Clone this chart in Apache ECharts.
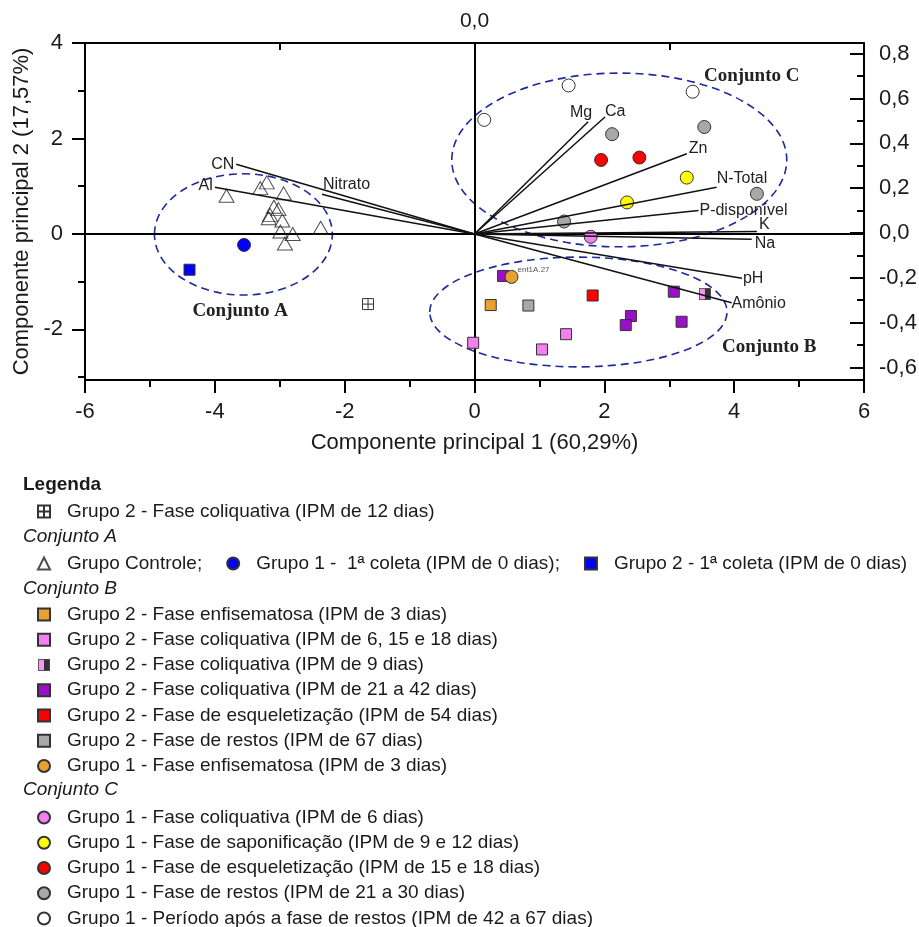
<!DOCTYPE html>
<html>
<head>
<meta charset="utf-8">
<script src="https://cdn.jsdelivr.net/npm/echarts@6/dist/echarts.min.js"></script>
<style>html,body{margin:0;padding:0;background:#fff}#c{width:919px;height:927px}</style>
</head>
<body>
<div id="c"></div>
<script>
// ---------- data ----------
const xTickLabels = [-6, -4, -2, 0, 2, 4, 6];
const yLeftLabels = [-2, 0, 2, 4];
const yLeftTicks = [-3, -2, -1, 0, 1, 2, 3, 4];
const yRightLabels = [-0.6, -0.4, -0.2, 0, 0.2, 0.4, 0.6, 0.8];
const yRightMinor = [-0.5, -0.3, -0.1, 0.1, 0.3, 0.5, 0.7];

const grupoControle = [[-3.82,0.80],[-3.20,1.08],[-3.30,0.96],[-2.94,0.85],[-3.09,0.57],[-3.02,0.52],[-3.15,0.40],[-3.17,0.33],[-2.96,0.28],[-2.99,0.05],[-2.80,0.00],[-2.92,-0.20],[-2.37,0.13]];
const g1Coleta0 = [[-3.55,-0.23]];
const g2Coleta0 = [[-4.39,-0.75]];
const g2Col12 = [[-1.64,-1.47]];
const g2Enf = [[0.25,-1.49]];
const g2Col6_15_18 = [[1.41,-2.10],[1.04,-2.42],[-0.02,-2.28]];
const g2Col9 = [[3.55,-1.26]];
const g2Col21_42 = [[0.44,-0.88],[3.07,-1.21],[2.41,-1.72],[2.33,-1.91],[3.19,-1.84]];
const g2Esq = [[1.82,-1.29]];
const g2Restos = [[0.83,-1.50]];
const g1Enf = [[0.57,-0.90]];
const g1Col6 = [[1.79,-0.06]];
const g1Sap = [[3.27,1.18],[2.35,0.66]];
const g1Esq = [[1.95,1.55],[2.54,1.60]];
const g1Restos = [[2.12,2.09],[3.54,2.24],[4.35,0.84],[1.38,0.26]];
const g1Apos = [[0.15,2.39],[1.45,3.11],[3.36,2.98]];

const vecNames = ['CN','Al','Nitrato','Mg','Ca','Zn','N-Total','P-disponível','K','Na','pH','Amônio'];
const vecX = [-3.67,-4.00,-2.35,1.75,2.01,3.27,3.73,3.45,4.35,4.27,4.12,3.96];
const vecY = [1.46,0.98,0.83,2.35,2.45,1.68,0.98,0.49,0.05,-0.11,-0.93,-1.44];

const ellipseNames = ['A','B','C'];
const ellipseCx = [-3.56, 1.60, 2.23];
const ellipseCy = [-0.01, -1.635, 1.55];
const ellipseRx = [1.37, 2.29, 2.58];
const ellipseRy = [1.27, 1.15, 1.82];

const conjLabels = ['Conjunto A','Conjunto B','Conjunto C'];
const conjX = [-3.61, 4.54, 4.27];
const conjY = [-1.61, -2.38, 3.30];

// ---------- names ----------
const N = {
  g2Col12: 'Grupo 2 - Fase coliquativa (IPM de 12 dias)',
  ctrl: 'Grupo Controle',
  g1C0: 'Grupo 1 -  1ª coleta (IPM de 0 dias)',
  g2C0: 'Grupo 2 - 1ª coleta (IPM de 0 dias)',
  g2Enf: 'Grupo 2 - Fase enfisematosa (IPM de 3 dias)',
  g2Col6: 'Grupo 2 - Fase coliquativa (IPM de 6, 15 e 18 dias)',
  g2Col9: 'Grupo 2 - Fase coliquativa (IPM de 9 dias)',
  g2Col21: 'Grupo 2 - Fase coliquativa (IPM de 21 a 42 dias)',
  g2Esq: 'Grupo 2 - Fase de esqueletização (IPM de 54 dias)',
  g2Restos: 'Grupo 2 - Fase de restos (IPM de 67 dias)',
  g1Enf: 'Grupo 1 - Fase enfisematosa (IPM de 3 dias)',
  g1Col6: 'Grupo 1 - Fase coliquativa (IPM de 6 dias)',
  g1Sap: 'Grupo 1 - Fase de saponificação (IPM de 9 e 12 dias)',
  g1Esq: 'Grupo 1 - Fase de esqueletização (IPM de 15 e 18 dias)',
  g1Restos: 'Grupo 1 - Fase de restos (IPM de 21 a 30 dias)',
  g1Apos: 'Grupo 1 - Período após a fase de restos (IPM de 42 a 67 dias)'
};

// ---------- styles ----------
const FONT = '"Liberation Sans", Arial, sans-serif';
const SERIF = '"Liberation Serif", "Times New Roman", serif';
const BORDER = '#333';
const halfSquareSvg = 'data:image/svg+xml;charset=utf-8,' + encodeURIComponent(
  '<svg xmlns="http://www.w3.org/2000/svg" width="24" height="24" viewBox="0 0 24 24">' +
  '<rect x="1" y="1" width="22" height="22" fill="#f47ff0" stroke="#333" stroke-width="2"/>' +
  '<rect x="12" y="1" width="11" height="22" fill="#000"/></svg>');
const crossSquare = 'path://M0,0H10V10H0Z M5,0V10 M0,5H10';

const vecLabelLayout = {
  'CN': {align:'right', dx:-2, dy:0},
  'Al': {align:'right', dx:-2, dy:-2},
  'Nitrato': {align:'left', dx:1, dy:-10},
  'Mg': {align:'right', dx:4, dy:-9},
  'Ca': {align:'left', dx:0, dy:-5},
  'Zn': {align:'left', dx:2, dy:-5},
  'N-Total': {align:'left', dx:0, dy:-9},
  'P-disponível': {align:'left', dx:1, dy:0},
  'K': {align:'left', dx:2, dy:-7},
  'Na': {align:'left', dx:3, dy:4},
  'pH': {align:'left', dx:1, dy:0},
  'Amônio': {align:'left', dx:0, dy:1}
};

function scatter(name, data, symbol, size, color, extra) {
  return Object.assign({
    name: name, type: 'scatter', data: data, symbol: symbol, symbolSize: size,
    xAxisIndex: 0, yAxisIndex: 0, z: 5,
    itemStyle: {color: color, borderColor: BORDER, borderWidth: 1, opacity: 1},
    emphasis: {disabled: true}
  }, extra || {});
}

const series = [
  {
    name: 'ellipses', type: 'custom', xAxisIndex: 0, yAxisIndex: 0, z: 1, silent: true,
    data: ellipseNames.map((n, i) => [ellipseCx[i], ellipseCy[i], ellipseRx[i], ellipseRy[i]]),
    renderItem: function (params, api) {
      const c = api.coord([api.value(0), api.value(1)]);
      const s = api.size([api.value(2), api.value(3)]);
      return {type: 'ellipse', shape: {cx: c[0], cy: c[1], rx: s[0], ry: s[1]},
        style: {fill: 'none', stroke: '#1c2a9c', lineWidth: 1.6, lineDash: [8, 5]}};
    },
    markLine: {
      silent: true, symbol: ['none', 'none'], label: {show: false},
      lineStyle: {color: '#000', width: 2, type: 'solid'},
      data: [{xAxis: 0}, {yAxis: 0}]
    }
  },
  {
    name: 'conjuntos', type: 'custom', xAxisIndex: 0, yAxisIndex: 0, z: 2, silent: true,
    data: conjLabels.map((n, i) => [conjX[i], conjY[i], i]),
    renderItem: function (params, api) {
      const c = api.coord([api.value(0), api.value(1)]);
      return {type: 'text', x: c[0], y: c[1], style: {text: conjLabels[api.value(2)],
        font: 'bold 19px ' + SERIF, fill: '#222', textAlign: 'center', textVerticalAlign: 'middle', verticalAlign: 'middle'}};
    }
  },
  scatter(N.ctrl, grupoControle, 'triangle', [15, 13], 'rgba(255,255,255,0)', {itemStyle: {color: 'rgba(255,255,255,0)', borderColor: '#222', borderWidth: 1}}),
  scatter(N.g1C0, g1Coleta0, 'circle', 13, '#0000ff'),
  scatter(N.g2C0, g2Coleta0, 'rect', 11, '#0000ff'),
  scatter(N.g2Col12, g2Col12, crossSquare, 11, '#ffffff'),
  scatter(N.g2Enf, g2Enf, 'rect', 11, '#e8a030'),
  scatter(N.g2Col6, g2Col6_15_18, 'rect', 11, '#f47ff0'),
  scatter(N.g2Col9, g2Col9, 'image://' + halfSquareSvg, 12, '#f47ff0', {itemStyle: {}}),
  scatter(N.g2Col21, g2Col21_42, 'rect', 11, '#9a10c8'),
  scatter(N.g2Esq, g2Esq, 'rect', 11, '#ff0000'),
  scatter(N.g2Restos, g2Restos, 'rect', 11, '#a8a8a8'),
  scatter(N.g1Enf, g1Enf, 'circle', 13, '#e8a030', {
    label: {show: true, formatter: 'ent1A.27', position: 'right', distance: 0, offset: [-1, -7],
      fontSize: 8, fontFamily: FONT, color: '#555'}
  }),
  scatter(N.g1Col6, g1Col6, 'circle', 13, '#f47ff0'),
  scatter(N.g1Sap, g1Sap, 'circle', 13, '#ffff00'),
  scatter(N.g1Esq, g1Esq, 'circle', 13, '#ff0000'),
  scatter(N.g1Restos, g1Restos, 'circle', 13, '#a8a8a8'),
  scatter(N.g1Apos, g1Apos, 'circle', 13, '#ffffff'),
  {
    name: 'vetores', type: 'custom', xAxisIndex: 0, yAxisIndex: 0, z: 8, silent: true,
    data: vecNames.map((n, i) => [vecX[i], vecY[i], i]),
    renderItem: function (params, api) {
      const p0 = api.coord([0, 0]);
      const p1 = api.coord([api.value(0), api.value(1)]);
      const name = vecNames[api.value(2)];
      const L = vecLabelLayout[name];
      return {type: 'group', children: [
        {type: 'line', shape: {x1: p0[0], y1: p0[1], x2: p1[0], y2: p1[1]}, style: {stroke: '#111', lineWidth: 1.5}},
        {type: 'text', x: p1[0] + L.dx, y: p1[1] + L.dy, style: {text: name, font: '16px ' + FONT, fill: '#222',
          textAlign: L.align, align: L.align, textVerticalAlign: 'middle', verticalAlign: 'middle'}}
      ]};
    }
  }
];

const legendText = {fontFamily: FONT, fontSize: 19, color: '#1a1a1a', lineHeight: 19, padding: [0, 0, 0, 12]};
const legendBase = {left: 37, orient: 'vertical', itemWidth: 12, itemHeight: 12, itemGap: 6.25,
  selectedMode: false, textStyle: legendText, padding: 0, height: 400};

const option = {
  backgroundColor: '#fff',
  animation: false,
  textStyle: {fontFamily: FONT},
  grid: {left: 85, right: 55, top: 43, bottom: 547, outerBoundsMode: 'none', containLabel: false},
  xAxis: [
    {
      type: 'value', position: 'bottom', min: -6, max: 6, interval: 2,
      name: 'Componente principal 1 (60,29%)', nameLocation: 'middle', nameGap: 52,
      nameTextStyle: {fontSize: 22, color: '#1a1a1a', fontFamily: FONT},
      axisLine: {show: true, onZero: false, lineStyle: {color: '#000', width: 2}},
      axisTick: {show: true, inside: false, length: 13, lineStyle: {color: '#000', width: 2}},
      minorTick: {show: true, splitNumber: 2, length: 7, lineStyle: {color: '#000', width: 2}},
      axisLabel: {fontSize: 22, color: '#1a1a1a', margin: 21, fontFamily: FONT,
        customValues: xTickLabels, formatter: v => String(v)},
      splitLine: {show: false}
    },
    {
      type: 'value', position: 'top', min: -6, max: 6,
      axisLine: {show: true, onZero: false, lineStyle: {color: '#000', width: 2}},
      axisTick: {show: true, inside: true, length: 7, customValues: [-3, 0, 3], lineStyle: {color: '#000', width: 2}},
      axisLabel: {show: true, fontSize: 21, color: '#1a1a1a', margin: 11, fontFamily: FONT,
        customValues: [0], formatter: () => '0,0'},
      splitLine: {show: false}
    }
  ],
  yAxis: [
    {
      type: 'value', position: 'left', min: -3.06, max: 4,
      name: 'Componente principal 2 (17,57%)', nameLocation: 'middle', nameGap: 50, nameRotate: 90,
      nameTextStyle: {fontSize: 22, color: '#1a1a1a', fontFamily: FONT},
      axisLine: {show: true, onZero: false, lineStyle: {color: '#000', width: 2}},
      axisTick: {show: true, inside: false, length: 13, customValues: yLeftLabels, lineStyle: {color: '#000', width: 2}},
      axisLabel: {fontSize: 22, color: '#1a1a1a', margin: 22, fontFamily: FONT,
        customValues: yLeftLabels, formatter: v => String(v)},
      splitLine: {show: false}
    },
    {
      type: 'value', position: 'right', min: -0.656, max: 0.848,
      axisLine: {show: true, onZero: false, lineStyle: {color: '#000', width: 2}},
      axisTick: {show: true, inside: true, length: 14, customValues: yRightLabels, lineStyle: {color: '#000', width: 2}},
      axisLabel: {fontSize: 22, color: '#1a1a1a', margin: 15, fontFamily: FONT,
        customValues: yRightLabels, formatter: v => (Math.abs(v) < 1e-9 ? '0,0' : v.toFixed(1).replace('.', ','))},
      splitLine: {show: false}
    },
    {
      type: 'value', position: 'left', min: -3.06, max: 4,
      axisLine: {show: false, onZero: false},
      axisTick: {show: true, inside: false, length: 7, customValues: yLeftTicks.filter(v => yLeftLabels.indexOf(v) < 0), lineStyle: {color: '#000', width: 2}},
      axisLabel: {show: false}, splitLine: {show: false}
    },
    {
      type: 'value', position: 'right', min: -0.656, max: 0.848,
      axisLine: {show: false, onZero: false},
      axisTick: {show: true, inside: true, length: 7, customValues: yRightMinor, lineStyle: {color: '#000', width: 2}},
      axisLabel: {show: false}, splitLine: {show: false}
    }
  ],
  legend: [
    Object.assign({}, legendBase, {top: 502, data: [N.g2Col12]}),
    Object.assign({}, legendBase, {top: 554, orient: 'horizontal', itemGap: 24, width: 900,
      data: [N.ctrl, N.g1C0, N.g2C0],
      formatter: name => (name === N.g2C0 ? name : name + ';')}),
    Object.assign({}, legendBase, {top: 605, data: [N.g2Enf, N.g2Col6, N.g2Col9, N.g2Col21, N.g2Esq, N.g2Restos, N.g1Enf]}),
    Object.assign({}, legendBase, {top: 808, data: [N.g1Col6, N.g1Sap, N.g1Esq, N.g1Restos, N.g1Apos]})
  ],
  graphic: [
    {type: 'text', x: 23, y: 485, style: {text: 'Legenda', font: 'bold 19px ' + FONT, fill: '#1a1a1a', textVerticalAlign: 'middle', verticalAlign: 'middle'}},
    {type: 'text', x: 23, y: 537, style: {text: 'Conjunto A', font: 'italic 19px ' + FONT, fill: '#1a1a1a', textVerticalAlign: 'middle', verticalAlign: 'middle'}},
    {type: 'text', x: 23, y: 589, style: {text: 'Conjunto B', font: 'italic 19px ' + FONT, fill: '#1a1a1a', textVerticalAlign: 'middle', verticalAlign: 'middle'}},
    {type: 'text', x: 23, y: 790, style: {text: 'Conjunto C', font: 'italic 19px ' + FONT, fill: '#1a1a1a', textVerticalAlign: 'middle', verticalAlign: 'middle'}}
  ],
  series: series
};

const chart = echarts.init(document.getElementById('c'), null, {renderer: 'canvas'});
chart.setOption(option);
</script>
</body>
</html>
